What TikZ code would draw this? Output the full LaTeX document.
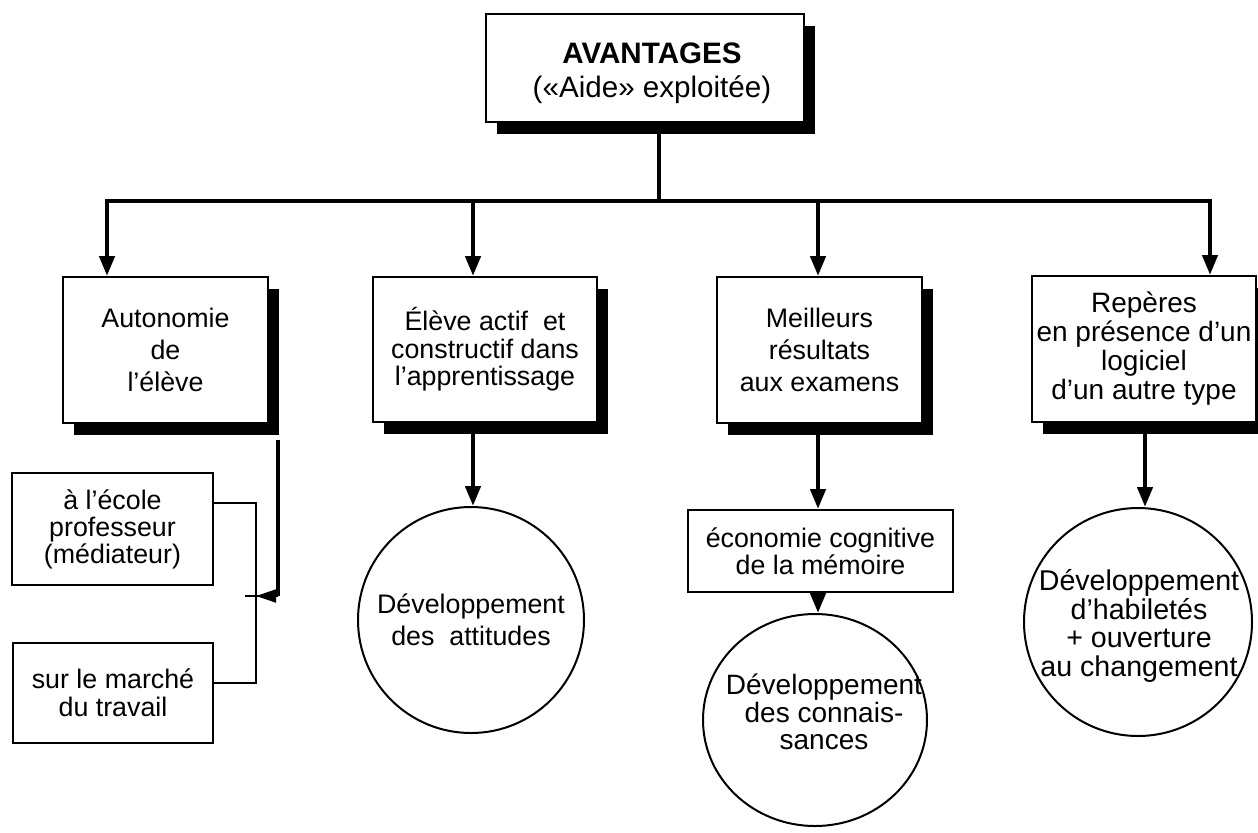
\documentclass[tikz,border=0pt]{standalone}
\usepackage{fontspec}
\setmainfont{Liberation Sans}
\usetikzlibrary{arrows.meta,shadows,shapes.geometric,calc}

\begin{document}
\begin{tikzpicture}[x=0.5pt,y=-0.5pt,
  txt/.style={font=\fontsize{13.4pt}{#1}\selectfont, align=center, inner sep=0pt},
  txt/.default=14pt,
  bigtxt/.style={font=\fontsize{14pt}{#1}\selectfont, align=center, inner sep=0pt},
  box/.style={draw, line width=1pt, fill=white, inner sep=0pt},
  shadowed/.style={drop shadow={shadow xshift=5.5pt, shadow yshift=-6pt, opacity=1, fill=black}},
  bubble/.style={draw, ellipse, line width=1pt, fill=white, inner sep=0pt},
  conn/.style={line width=2.2pt},
  arr/.style={conn, -{Triangle[length=10pt,width=7.5pt]}},
  thinline/.style={line width=1pt},
  thinarr/.style={thinline, -{Triangle[length=10pt,width=6.5pt]}}
]
\useasboundingbox (0,0) rectangle (1258,832);

% top box
\node[box, shadowed, minimum width=159pt, minimum height=54pt] (top) at (645,68) {};
\node[font=\fontsize{14.8pt}{17pt}\selectfont, align=center, inner sep=0pt] (toptext) at (652,73)
  {\textbf{AVANTAGES}\\(«Aide» exploitée)};

% four main boxes
\node[box, shadowed, minimum width=102.5pt, minimum height=73pt, txt=16pt] (b1) at (165.5,350)
  {Autonomie\\de\\l’élève};
\node[box, shadowed, minimum width=112pt, minimum height=72.5pt, txt=13.75pt] (b2) at (485,349.5)
  {Élève actif\ \ et\\constructif dans\\l’apprentissage};
\node[box, shadowed, minimum width=102.5pt, minimum height=73pt, txt=16pt] (b3) at (819.5,350)
  {Meilleurs\\résultats\\aux examens};
\node[box, shadowed, minimum width=112pt, minimum height=73pt, bigtxt=14.5pt] (b4) at (1144,349)
  {Repères\\en présence d’un\\logiciel\\d’un autre type};

% secondary boxes
\node[box, minimum width=132.5pt, minimum height=41pt, txt=13.5pt] (eco) at (820.5,551)
  {économie cognitive\\de la mémoire};
\node[box, minimum width=100.5pt, minimum height=56pt, txt=13.5pt] (ecole) at (112.5,529)
  {à l’école\\professeur\\(médiateur)};
\node[box, minimum width=100pt, minimum height=50pt, txt=14pt] (marche) at (113,693)
  {sur le marché\\du travail};

% circles
\node[bubble, minimum width=113pt, minimum height=113pt] (c2) at (471,620) {};
\node[txt=16pt] (c2t) at (c2) {Développement\\des\ \ attitudes};
\node[bubble, minimum width=112pt, minimum height=106pt] (c3) at (815,720) {};
\node[bigtxt=13.75pt] (c3t) at ($(c3)+(9,-8)$) {Développement\\des connais-\\sances};
\node[bubble, minimum width=114pt, minimum height=114pt] (c4) at (1138,622) {};
\node[font=\fontsize{14.3pt}{14.25pt}\selectfont, align=center, inner sep=0pt] (c4t) at ($(c4)+(1,4)$)
  {Développement\\d’habiletés\\+ ouverture\\au changement};

% distribution bar
\coordinate (hub) at (659,201);
\coordinate (d1) at (107,201);
\coordinate (d2) at (473,201);
\coordinate (d3) at (818,201);
\coordinate (d4) at (1210,201);
\draw[conn] (top.south -| hub) -- (hub);
\draw[arr] (hub) -| (d1 |- b1.north);
\draw[arr] (hub) -| (d4 |- b4.north);
\draw[arr] (d2) -- (d2 |- b2.north);
\draw[arr] (d3) -- (d3 |- b3.north);

% lower arrows
\draw[arr] (b2.south -| d2) -- (d2 |- c2.north);
\draw[arr] (b3.south -| d3) -- (d3 |- eco.north);
\draw[arr] (eco.south -| d3) -- (d3 |- c3.north);
\coordinate (d5) at (1145,201);
\draw[arr] (b4.south -| d5) -- (d5 |- c4.north);

% autonomy branch
\coordinate (s1) at (278,440);
\coordinate (s2) at (278,596);
\coordinate (join) at (256,596);
\coordinate (stub) at (245,596);
\coordinate (p1) at ($(ecole.north east)!0.27!(ecole.south east)$);
\coordinate (p2) at ($(marche.north east)!0.4!(marche.south east)$);
\draw[conn] (s1) -- (s2);
\draw[thinline] (p1) -| (join) |- (p2);
\draw[thinline] (stub) -- (s2);
\draw[thinarr] (s2) -- (join);
\end{tikzpicture}
\end{document}
